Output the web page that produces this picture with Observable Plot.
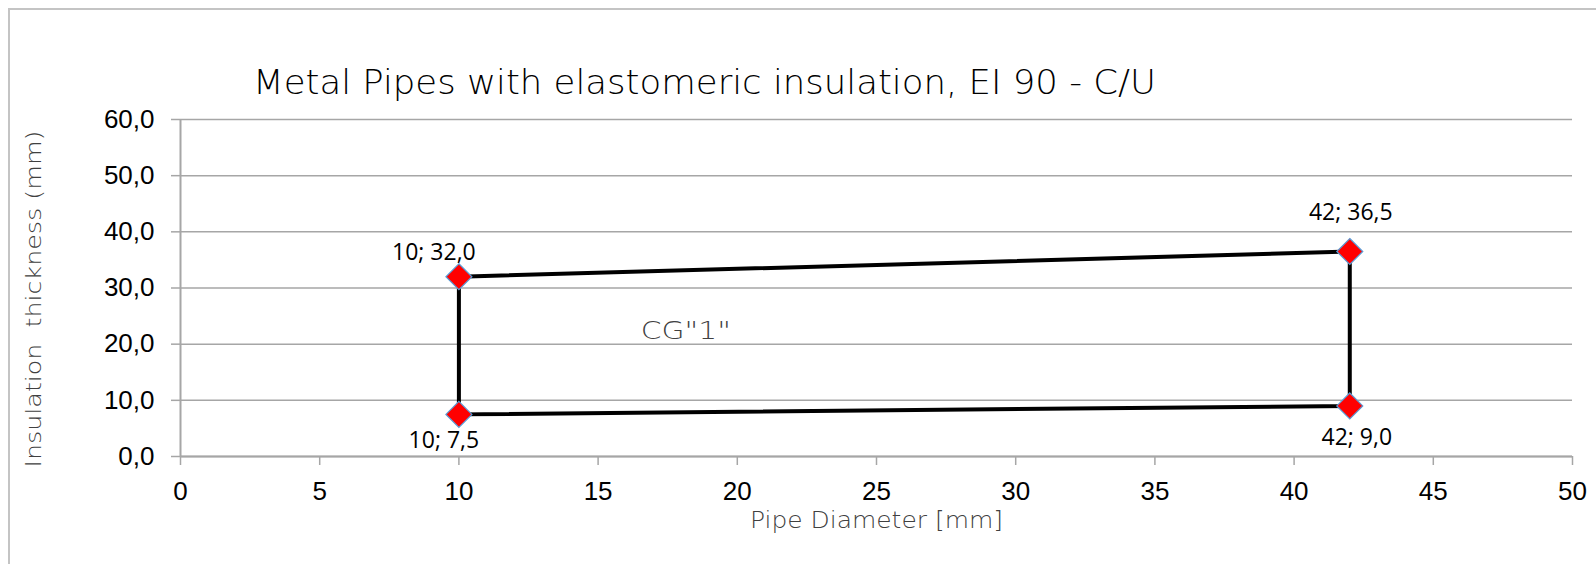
<!DOCTYPE html>
<html>
<head>
<meta charset="utf-8">
<script src="https://cdn.jsdelivr.net/npm/d3@7"></script>
<script src="https://cdn.jsdelivr.net/npm/@observablehq/plot@0.6"></script>
<style>
  html, body { margin: 0; padding: 0; background: #fff; overflow: hidden; }
  #wrap { position: relative; width: 1596px; height: 564px; overflow: hidden; }
  #wrap svg { display: block; }
  svg text { white-space: pre; }
</style>
</head>
<body>
<div id="wrap"></div>
<script>
// Data
const pipeDiameter = [10, 42, 42, 10, 10];          // polygon path order (closed)
const insulation   = [32.0, 36.5, 9.0, 7.5, 32.0];
const cornerX = [10, 42, 10, 42];
const cornerY = [32.0, 36.5, 7.5, 9.0];
const xTicks = [0, 5, 10, 15, 20, 25, 30, 35, 40, 45, 50];
const yTicks = [0, 10, 20, 30, 40, 50, 60];
const regionLabel = [{x: 18.15, y: 22.3, text: 'CG"1"'}];
const title = "Metal Pipes with elastomeric insulation, EI 90 - C/U";
const xLabel = "Pipe Diameter [mm]";
const yLabel = "Insulation \u00a0thickness (mm)";

const comma = v => d3.format(".1f")(v).replace(".", ",");
const path = pipeDiameter.map((x, i) => ({x, y: insulation[i]}));
const corners = cornerX.map((x, i) => ({x, y: cornerY[i], label: `${x}; ${comma(cornerY[i])}`}));

const thin = "'Century Gothic', 'DejaVu Sans', sans-serif";
const grid = "#a6a6a6";

const labelMark = (i, dx, dy) => Plot.text([corners[i]], {
  x: "x", y: "y", text: "label", dx, dy,
  fontSize: 23, fontFamily: "'Open Sans', 'Noto Sans', sans-serif", fill: "#000"
});

const chart = Plot.plot({
  width: 1596, height: 564,
  marginTop: 119, marginLeft: 180, marginRight: 24, marginBottom: 108,
  style: {background: "transparent", overflow: "hidden"},
  x: {domain: [0, 50]},
  y: {domain: [0, 60]},
  marks: [
    Plot.gridY(yTicks, {stroke: grid, strokeOpacity: 1, strokeWidth: 1.5}),
    Plot.axisY(yTicks, {tickSize: 9, tickPadding: 17, stroke: grid, strokeWidth: 1.5,
      tickFormat: comma, fontSize: 26, fontFamily: "'Liberation Sans', Arial, sans-serif",
      fill: "#000", label: null}),
    Plot.axisX(xTicks, {tickSize: 9, tickPadding: 16, stroke: grid, strokeWidth: 1.5,
      tickFormat: d => String(d), fontSize: 26, fontFamily: "'Liberation Sans', Arial, sans-serif",
      fill: "#000", label: null}),
    Plot.ruleY([0], {stroke: grid, strokeWidth: 2}),
    Plot.ruleX([0], {y1: 0, y2: 60, stroke: grid, strokeWidth: 2}),
    Plot.line(path, {x: "x", y: "y", stroke: "#000", strokeWidth: 4, strokeLinejoin: "miter"}),
    Plot.dot(corners, {x: "x", y: "y", symbol: "diamond2", r: 11.7, fill: "#ff0000",
      stroke: "#5b9bd5", strokeWidth: 1.2}),
    labelMark(0, -25, -24),
    labelMark(1, 1, -39),
    labelMark(2, -15, 26),
    labelMark(3, 7, 32),
    Plot.text(regionLabel, {x: "x", y: "y", text: "text", fontSize: 24, fontFamily: thin,
      fontWeight: 200, fill: "#404040"}),
    Plot.text([title], {frameAnchor: "top", dx: -172, dy: -50, fontSize: 34, fontFamily: thin,
      fontWeight: 200, fill: "#000"}),
    Plot.text([xLabel], {frameAnchor: "bottom", dx: 0, dy: 71, fontSize: 23, fontFamily: thin,
      fontWeight: 200, fill: "#404040"}),
    Plot.text([yLabel], {frameAnchor: "left", textAnchor: "middle", rotate: -90, dx: -147, dy: 11,
      fontSize: 22, fontFamily: thin, fontWeight: 200, fill: "#404040"})
  ]
});

document.getElementById("wrap").prepend(chart);

// Outer chart-area border (only its top and left edges fall inside the picture)
d3.select(chart).insert("path", ":first-child")
  .attr("d", "M9,564V9H1596")
  .attr("fill", "none").attr("stroke", "#c4c4c4").attr("stroke-width", 2);

// Fit the thin-font texts to the widths they take in the reference
const fitWidths = new Map([[title, 903], [xLabel, 253], [yLabel, 337], ['CG"1"', 90]]);
d3.select(chart).selectAll("text").each(function() {
  const w = fitWidths.get(this.textContent);
  if (w) {
    this.setAttribute("textLength", w);
    this.setAttribute("lengthAdjust", "spacingAndGlyphs");
  }
});
</script>
</body>
</html>
